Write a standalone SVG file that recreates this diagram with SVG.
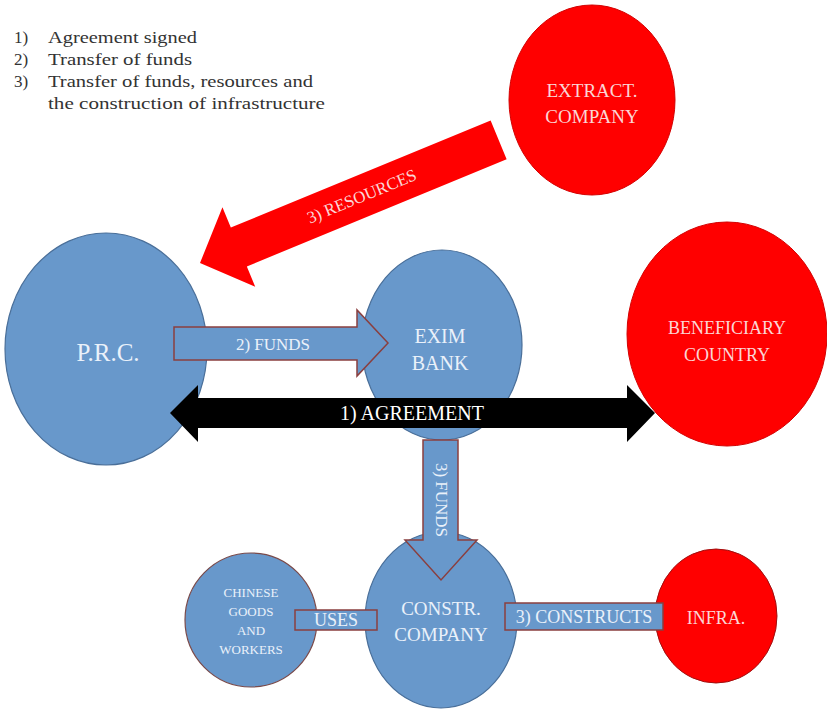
<svg xmlns="http://www.w3.org/2000/svg" width="827" height="710" viewBox="0 0 827 710">
<style>
.blue{fill:#6898cb;stroke:#4a6f99;stroke-width:1.2}
.red{fill:#ff0000;stroke:#d40000;stroke-width:1}
.t{font-family:"Liberation Serif","DejaVu Serif",serif;text-anchor:middle;dominant-baseline:central}
.tb{fill:#eaf1fa}
.tr{fill:#fbd5d5}
.barrow{fill:#6898cb;stroke:#8a3f3f;stroke-width:1.5}
.leg{font-family:"Liberation Serif","DejaVu Serif",serif;font-size:17px;fill:#333}
</style>
<rect width="827" height="710" fill="#fff"/>
<g id="legend">
<text class="leg" x="14" y="43">1)</text><text class="leg" x="48" y="43" textLength="149" lengthAdjust="spacingAndGlyphs">Agreement signed</text>
<text class="leg" x="14" y="65">2)</text><text class="leg" x="48" y="65" textLength="144" lengthAdjust="spacingAndGlyphs">Transfer of funds</text>
<text class="leg" x="14" y="87">3)</text><text class="leg" x="48" y="87" textLength="265" lengthAdjust="spacingAndGlyphs">Transfer of funds, resources and</text>
<text class="leg" x="48" y="109" textLength="277" lengthAdjust="spacingAndGlyphs">the construction of infrastructure</text>
</g>
<g id="extract">
<ellipse class="red" cx="592" cy="100" rx="83" ry="95"/>
<text class="t tr" x="592" y="90" font-size="19">EXTRACT.</text>
<text class="t tr" x="592" y="116" font-size="19">COMPANY</text>
</g>
<g id="prc">
<ellipse class="blue" cx="106" cy="349" rx="101" ry="116"/>
<text class="t tb" x="108" y="352" font-size="25">P.R.C.</text>
</g>
<g id="exim">
<ellipse class="blue" cx="442" cy="345" rx="80" ry="95"/>
<text class="t tb" x="440" y="336" font-size="20">EXIM</text>
<text class="t tb" x="440" y="363" font-size="20">BANK</text>
</g>
<g id="beneficiary">
<ellipse class="red" cx="727" cy="334" rx="100" ry="112"/>
<text class="t tr" x="727" y="328" font-size="18">BENEFICIARY</text>
<text class="t tr" x="727" y="355" font-size="18">COUNTRY</text>
</g>
<g id="constr">
<ellipse class="blue" cx="441" cy="620" rx="76" ry="88"/>
<text class="t tb" x="441" y="608" font-size="19">CONSTR.</text>
<text class="t tb" x="441" y="634" font-size="19">COMPANY</text>
</g>
<g id="chinese">
<ellipse class="blue" cx="251" cy="620" rx="66" ry="67" style="stroke:#7a4a4a"/>
<text class="t tb" x="251" y="592" font-size="13">CHINESE</text>
<text class="t tb" x="251" y="611" font-size="13">GOODS</text>
<text class="t tb" x="251" y="630" font-size="13">AND</text>
<text class="t tb" x="251" y="649" font-size="13">WORKERS</text>
</g>
<g id="infra">
<ellipse class="red" cx="716" cy="616" rx="61" ry="67" style="stroke:#a01010"/>
<text class="t tr" x="716" y="618" font-size="18">INFRA.</text>
</g>
<g id="connectors">
<g transform="translate(200,263) rotate(-22.4)">
<path d="M0,0 L42,-43 L42,-21 L323,-21 L323,21 L42,21 L42,43 Z" fill="#ff0000"/>
<text class="t tr" x="175" y="0" font-size="17">3) RESOURCES</text>
</g>
<path class="barrow" d="M174,327 L357,327 L357,310 L388,343 L357,376 L357,360 L174,360 Z"/>
<text class="t tb" x="273" y="344" font-size="17">2) FUNDS</text>
<path d="M170,413 L198,385 L198,398 L627,398 L627,385 L655,413 L627,442 L627,428 L198,428 L198,442 Z" fill="#000"/>
<text class="t" x="412" y="413" font-size="20" fill="#fff">1) AGREEMENT</text>
<path class="barrow" d="M423,440 L458,440 L458,540 L477,540 L441,580 L405,540 L423,540 Z"/>
<text class="t tb" x="441" y="500" font-size="17" transform="rotate(90 441 500)">3) FUNDS</text>
<rect class="barrow" x="295" y="610" width="82" height="20"/>
<text class="t tb" x="336" y="620" font-size="18">USES</text>
<rect class="barrow" x="505" y="603" width="158" height="27"/>
<text class="t tb" x="584" y="617" font-size="18">3) CONSTRUCTS</text>
</g>
</svg>
